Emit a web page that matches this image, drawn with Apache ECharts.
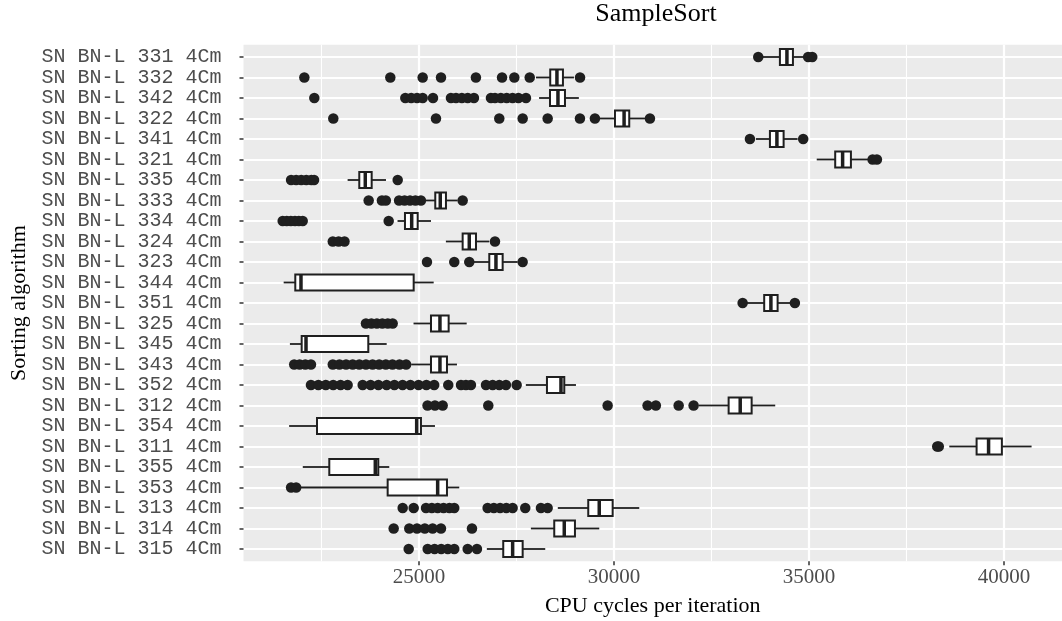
<!DOCTYPE html>
<html>

<head>
    <meta charset="utf-8">
    <title>SampleSort</title>
    <!-- including ECharts file -->
    <script src="https://cdn.jsdelivr.net/npm/echarts@6/dist/echarts.min.js"></script>
    <style>
        body { margin: 0; background: #ffffff; }
    </style>
</head>

<body>
    <!-- prepare a DOM container with width and height -->
    <div id="main" style="width: 1062px;height:621px;"></div>
</body>
<script type="text/javascript">
    // sorting variants, top row first
    var categories = [
        'SN BN-L 331 4Cm', 'SN BN-L 332 4Cm', 'SN BN-L 342 4Cm', 'SN BN-L 322 4Cm', 'SN BN-L 341 4Cm',
        'SN BN-L 321 4Cm', 'SN BN-L 335 4Cm', 'SN BN-L 333 4Cm', 'SN BN-L 334 4Cm', 'SN BN-L 324 4Cm',
        'SN BN-L 323 4Cm', 'SN BN-L 344 4Cm', 'SN BN-L 351 4Cm', 'SN BN-L 325 4Cm', 'SN BN-L 345 4Cm',
        'SN BN-L 343 4Cm', 'SN BN-L 352 4Cm', 'SN BN-L 312 4Cm', 'SN BN-L 354 4Cm', 'SN BN-L 311 4Cm',
        'SN BN-L 355 4Cm', 'SN BN-L 353 4Cm', 'SN BN-L 313 4Cm', 'SN BN-L 314 4Cm', 'SN BN-L 315 4Cm'
    ];

    // box statistics, CPU cycles per iteration
    var whiskerLow = [33760, 28000, 28080, 29615, 33640, 35200, 23170, 25180, 24450, 25690, 26410, 21530, 33380,
        24860, 21690, 24800, 27740, 32170, 21670, 38600, 22020, 21970, 28560, 27870, 26740];
    var boxQ1 = [34256, 28366, 28360, 30026, 34000, 35674, 23469, 25418, 24641, 26120, 26803, 21828, 33853,
        25308, 21992, 25308, 28282, 32941, 22385, 39300, 22700, 24197, 29341, 28469, 27161];
    var boxMedian = [34436, 28538, 28564, 30260, 34179, 35864, 23623, 25546, 24813, 26290, 26974, 21974, 34025,
        25538, 22103, 25538, 28641, 33238, 24941, 39607, 23880, 25479, 29623, 28726, 27402];
    var boxQ3 = [34590, 28692, 28744, 30392, 34351, 36077, 23787, 25692, 24967, 26462, 27146, 24864, 34197,
        25761, 23700, 25718, 28726, 33531, 25051, 39948, 23956, 25718, 29967, 29000, 27659];
    var whiskerHigh = [34872, 28974, 29100, 30820, 34710, 36530, 24154, 25992, 25308, 26803, 27531, 25377, 34538,
        26223, 24172, 25974, 29026, 34136, 25410, 40710, 24238, 26033, 30649, 29623, 28238];

    // outlier points for each row
    var outliers = [
        [33700, 34980, 35085],
        [22060, 24265, 25095, 25565, 26460, 27130, 27445, 27840, 29130],
        [22316, 24650, 24800, 24950, 25095, 25360, 25820, 25950, 26100, 26250, 26410, 26846, 26950, 27100, 27250,
            27400, 27550, 27744],
        [22803, 25436, 27059, 27659, 28300, 29128, 29512, 30923],
        [33487, 34853],
        [36633, 36743],
        [21720, 21850, 21980, 22110, 22240, 22310, 24454],
        [23710, 24050, 24150, 24490, 24630, 24770, 24910, 25050, 26120],
        [21505, 21610, 21715, 21820, 21920, 22018, 24223],
        [22790, 22940, 23090, 26949],
        [25205, 25905, 26290, 27659],
        [],
        [33300, 34640],
        [23640, 23780, 23920, 24060, 24200, 24325],
        [],
        [21800, 21940, 22085, 22230, 22790, 22960, 23130, 23300, 23470, 23640, 23810, 23980, 24150, 24320, 24500,
            24670],
        [22230, 22420, 22610, 22800, 22990, 23170, 23556, 23760, 23960, 24170, 24370, 24580, 24780, 24990, 25190,
            25390, 25751, 26077, 26205, 26333, 26718, 26890, 27060, 27231, 27505],
        [25220, 25410, 25608, 26777, 29838, 30862, 31075, 31659, 32043],
        [],
        [38290, 38330],
        [],
        [21720, 21850],
        [24582, 24864, 25180, 25330, 25480, 25630, 25780, 25905, 26760, 26920, 27080, 27240, 27402, 27725, 28128,
            28300],
        [24351, 24751, 24950, 25150, 25350, 25564, 26359],
        [24736, 25223, 25400, 25570, 25740, 25905, 26249, 26487]
    ];

    // x axis ticks
    var majorTicks = [25000, 30000, 35000, 40000];
    var minorTicks = [22500, 27500, 32500, 37500];

    var serif = 'Liberation Serif';
    var ink = '#1f1f1f';

    // one box glyph: whiskers, box, median
    function renderBox(params, api) {
        var row = api.value(0);
        var pLo = api.coord([api.value(1), row]);
        var pQ1 = api.coord([api.value(2), row]);
        var pMed = api.coord([api.value(3), row]);
        var pQ3 = api.coord([api.value(4), row]);
        var pHi = api.coord([api.value(5), row]);
        var h = api.size([0, 1])[1] * 0.78;
        var y = pLo[1];
        return {
            type: 'group',
            children: [{
                type: 'line',
                shape: { x1: pLo[0], y1: y, x2: pQ1[0], y2: y },
                style: { stroke: ink, lineWidth: 1.8 }
            }, {
                type: 'line',
                shape: { x1: pQ3[0], y1: y, x2: pHi[0], y2: y },
                style: { stroke: ink, lineWidth: 1.8 }
            }, {
                type: 'rect',
                shape: { x: pQ1[0], y: y - h / 2, width: pQ3[0] - pQ1[0], height: h },
                style: { fill: '#ffffff', stroke: ink, lineWidth: 2 }
            }, {
                type: 'line',
                shape: { x1: pMed[0], y1: y - h / 2, x2: pMed[0], y2: y + h / 2 },
                style: { stroke: ink, lineWidth: 3.5 }
            }]
        };
    }

    function drawGraph() {
        var myChart = echarts.init(document.getElementById('main'));

        var rowIndex = categories.map(function (c, i) { return i; });
        var boxData = categories.map(function (c, i) {
            return [i, whiskerLow[i], boxQ1[i], boxMedian[i], boxQ3[i], whiskerHigh[i]];
        });
        var outlierData = [];
        outliers.forEach(function (list, i) {
            list.forEach(function (v) { outlierData.push([v, i]); });
        });

        var option = {
            animation: false,
            title: {
                text: 'SampleSort',
                left: 656,
                top: 1,
                textAlign: 'center',
                padding: 0,
                textStyle: { fontFamily: serif, fontSize: 26, fontWeight: 'normal', color: '#000' }
            },
            grid: {
                left: 243.5,
                right: 0,
                top: 44.7,
                bottom: 59.7,
                show: true,
                backgroundColor: '#EBEBEB',
                borderWidth: 0,
                containLabel: false,
                outerBoundsMode: 'none'
            },
            xAxis: [{
                type: 'value',
                position: 'bottom',
                min: 20500,
                max: 41490,
                name: 'CPU cycles per iteration',
                nameLocation: 'middle',
                nameGap: 34,
                nameTextStyle: { fontFamily: serif, fontSize: 22, color: '#000' },
                axisLine: { show: false, onZero: false },
                axisTick: { show: true, length: 4, customValues: majorTicks, lineStyle: { color: '#333', width: 1.5 } },
                axisLabel: {
                    customValues: majorTicks,
                    margin: 6,
                    fontFamily: serif,
                    fontSize: 21,
                    color: '#4D4D4D',
                    formatter: function (v) { return String(v); }
                },
                splitLine: { show: true, lineStyle: { color: '#ffffff', width: 2.2 } }
            }, {
                // minor grid lines only
                type: 'value',
                position: 'top',
                min: 20500,
                max: 41490,
                axisLine: { show: false, onZero: false },
                axisTick: { show: false, customValues: minorTicks },
                axisLabel: { show: false },
                splitLine: { show: true, lineStyle: { color: '#ffffff', width: 1.1 } }
            }],
            yAxis: [{
                type: 'value',
                position: 'left',
                min: -0.6,
                max: 24.6,
                inverse: true,
                name: 'Sorting algorithm',
                nameLocation: 'middle',
                nameGap: 208,
                nameTextStyle: { fontFamily: serif, fontSize: 22, color: '#000' },
                axisLine: { show: false, onZero: false },
                axisTick: { show: true, length: 4, customValues: rowIndex, lineStyle: { color: '#333', width: 1.5 } },
                axisLabel: {
                    customValues: rowIndex,
                    margin: 22,
                    fontFamily: 'Liberation Mono',
                    fontSize: 20,
                    color: '#4D4D4D',
                    formatter: function (v) { return categories[Math.round(v)]; }
                },
                splitLine: { show: true, lineStyle: { color: '#ffffff', width: 2.2 } }
            }],
            series: [{
                type: 'custom',
                xAxisIndex: 0,
                yAxisIndex: 0,
                data: boxData,
                encode: { x: [1, 2, 3, 4, 5], y: 0 },
                renderItem: renderBox,
                z: 2
            }, {
                type: 'scatter',
                xAxisIndex: 0,
                yAxisIndex: 0,
                data: outlierData,
                symbolSize: 10.5,
                itemStyle: { color: ink, opacity: 1 },
                z: 3
            }]
        };

        myChart.setOption(option);
    }

    drawGraph();
</script>

</html>
